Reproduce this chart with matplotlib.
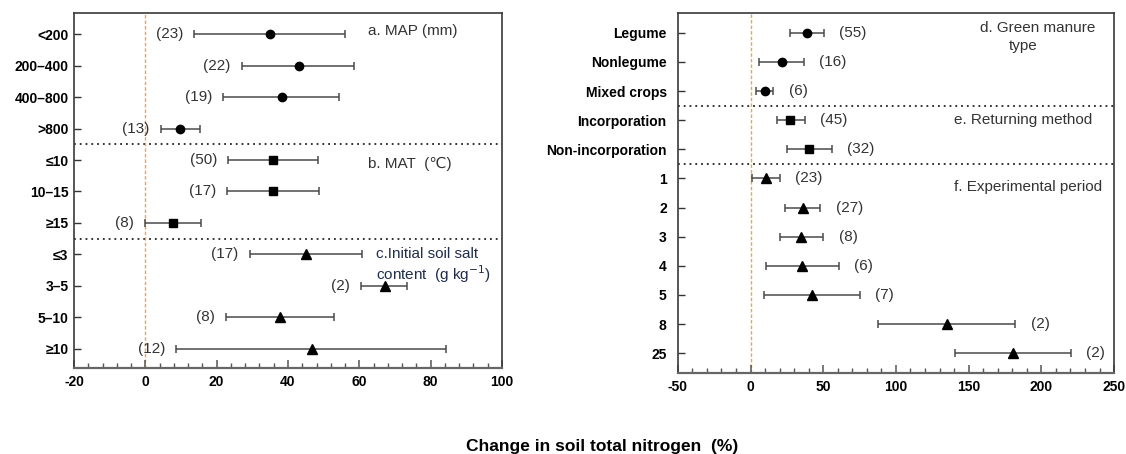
import numpy as np
import matplotlib
matplotlib.use("Agg")
import matplotlib.pyplot as plt
from matplotlib.ticker import MultipleLocator

plt.rcParams['font.family'] = ['Liberation Sans', 'DejaVu Sans']

# ---- data: left panel (a–c) ----
left_labels = ['<200', '200–400', '400–800', '>800',
               '≤10', '10–15', '≥15',
               '≤3', '3–5', '5–10', '≥10']
left_mean = [34.9, 43.0, 38.2, 9.8, 35.8, 35.7, 7.7, 45.0, 67.1, 37.7, 46.6]
left_low = [13.7, 27.1, 21.8, 4.3, 23.3, 22.9, 0.0, 29.3, 60.5, 22.5, 8.7]
left_high = [56.0, 58.5, 54.2, 15.4, 48.3, 48.6, 15.6, 60.8, 73.5, 52.9, 84.4]
left_n = [23, 22, 19, 13, 50, 17, 8, 17, 2, 8, 12]
left_groups = [4, 3, 4]

# ---- data: right panel (d–f) ----
right_labels = ['Legume', 'Nonlegume', 'Mixed crops',
                'Incorporation', 'Non-incorporation',
                '1', '2', '3', '4', '5', '8', '25']
right_mean = [38.7, 21.5, 10.0, 27.2, 40.2, 10.7, 36.0, 35.0, 35.2, 42.5, 135.0, 180.5]
right_low = [27.2, 5.8, 4.0, 18.2, 25.0, 0.7, 23.7, 20.0, 10.5, 9.5, 87.7, 140.7]
right_high = [50.5, 36.5, 15.7, 37.2, 56.0, 20.2, 48.0, 50.0, 60.7, 75.2, 182.2, 220.2]
right_n = [55, 16, 6, 45, 32, 23, 27, 8, 6, 7, 2, 2]
right_groups = [3, 2, 7]

markers = ['o', 's', '^']
msizes = [6, 6, 6.5]
ecol = '#4a4a4a'
txtcol = '#333333'
FS_TXT = 11
FS_TICK = 10


def draw_panel(ax, labels, mean, low, high, n, groups, side):
    mean = np.asarray(mean)
    y = np.arange(len(labels))
    xerr = [mean - np.asarray(low), np.asarray(high) - mean]
    start = 0
    for gi, g in enumerate(groups):
        sl = slice(start, start + g)
        ax.errorbar(mean[sl], y[sl], xerr=[xerr[0][sl], xerr[1][sl]],
                    fmt=markers[gi], ms=msizes[gi], color='black', mfc='black', mec='black',
                    ecolor=ecol, elinewidth=1.1, capsize=3.2, capthick=1.1, zorder=3)
        start += g
        if start < len(labels):
            ax.axhline(start - 0.5, color='#222222', lw=1.3, ls=(0, (1, 2.2)), zorder=1)
    for i in range(len(labels)):
        if side == 'left':
            ax.annotate(f'({n[i]})', (low[i], y[i]), xytext=(-8, 0), textcoords='offset points',
                        ha='right', va='center', fontsize=FS_TXT, color=txtcol)
        else:
            ax.annotate(f'({n[i]})', (high[i], y[i]), xytext=(11, 0), textcoords='offset points',
                        ha='left', va='center', fontsize=FS_TXT, color=txtcol)
    ax.axvline(0, color='#f5a04a', lw=1.0, ls=(0, (2.5, 1.5)), zorder=1)
    ax.set_yticks(y)
    ax.set_yticklabels(labels, fontweight='bold', fontsize=FS_TICK)
    ax.tick_params(axis='y', direction='in', length=5, width=1, color='#333333')
    ax.tick_params(axis='x', which='major', direction='in', length=6, width=1.1,
                   labelsize=FS_TICK, pad=5, color='#555555')
    ax.tick_params(axis='x', which='minor', direction='in', length=3.5, width=1, color='#555555')
    for sp in ['left', 'right', 'top']:
        ax.spines[sp].set_color('#3a3a3a')
        ax.spines[sp].set_linewidth(1.2)
    ax.spines['bottom'].set_color('#666666')
    ax.spines['bottom'].set_linewidth(1.6)


fig = plt.figure(figsize=(11.26, 4.54), dpi=100)
ax1 = fig.add_axes([0.0657, 0.1894, 0.3801, 0.7820])
ax2 = fig.add_axes([0.6020, 0.1784, 0.3874, 0.7936])

draw_panel(ax1, left_labels, left_mean, left_low, left_high, left_n, left_groups, 'left')
ax1.set_xlim(-20, 100)
ax1.set_ylim(10.62, -0.68)
ax1.set_xticks(np.arange(-20, 101, 20))
ax1.set_xticklabels([str(v) for v in range(-20, 101, 20)], fontweight='bold')
ax1.xaxis.set_minor_locator(MultipleLocator(4))
ax1.tick_params(axis='y', pad=4)
ax1.text(62.5, -0.1, 'a. MAP (mm)', fontsize=FS_TXT, color=txtcol, va='center')
ax1.text(62.3, 4.14, 'b. MAT  (℃)', fontsize=FS_TXT, color=txtcol, va='center')
ax1.text(64.6, 7.0, 'c.Initial soil salt', fontsize=FS_TXT, color='#1f2d4d', va='center')
ax1.text(64.6, 7.64, r'content  (g kg$^{-1}$)', fontsize=FS_TXT, color='#1f2d4d', va='center')

draw_panel(ax2, right_labels, right_mean, right_low, right_high, right_n, right_groups, 'right')
ax2.set_xlim(-50, 250)
ax2.set_ylim(11.68, -0.69)
ax2.set_xticks(np.arange(-50, 251, 50))
ax2.set_xticklabels([str(v) for v in range(-50, 251, 50)], fontweight='bold')
ax2.xaxis.set_minor_locator(MultipleLocator(10))
ax2.tick_params(axis='y', pad=8)
ax2.text(157.5, -0.15, 'd. Green manure', fontsize=FS_TXT, color=txtcol, va='center')
ax2.text(187.5, 0.45, 'type', fontsize=FS_TXT, color=txtcol, va='center', ha='center')
ax2.text(140, 3.0, 'e. Returning method', fontsize=FS_TXT, color=txtcol, va='center')
ax2.text(140, 5.28, 'f. Experimental period', fontsize=FS_TXT, color=txtcol, va='center')

fig.text(0.535, 1 - 446 / 454, 'Change in soil total nitrogen  (%)',
         ha='center', va='center', fontsize=12.5, fontweight='bold')

fig.savefig('out.png', dpi=100)
